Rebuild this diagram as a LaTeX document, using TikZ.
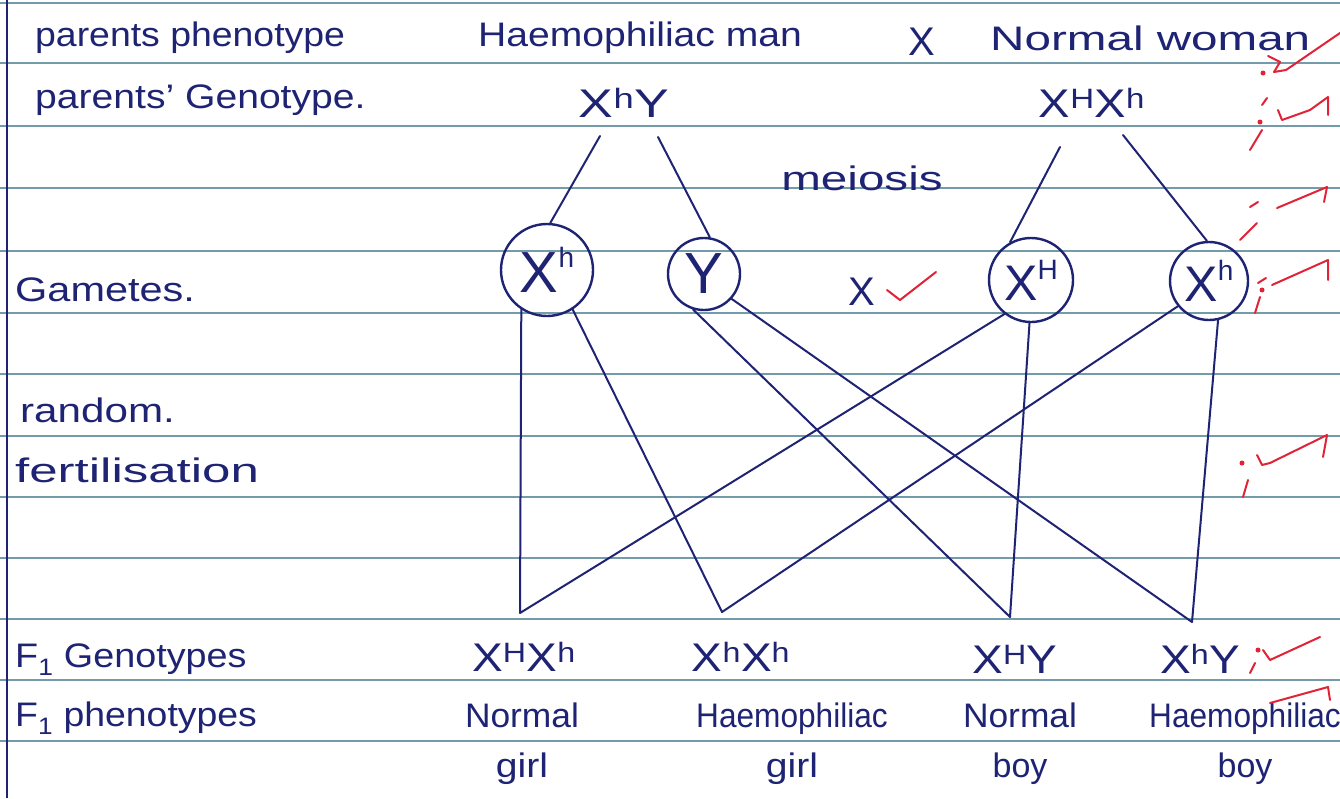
\documentclass[tikz,border=0pt]{standalone}
\usepackage{fontspec}
\setmainfont{Liberation Sans}
\usepackage{graphicx}
\definecolor{ink}{RGB}{30,35,115}
\definecolor{rulecol}{RGB}{115,155,170}
\definecolor{redink}{RGB}{225,35,55}
\newcommand\hs[2]{\scalebox{#1}[1]{#2}}
\newcommand\gsup[1]{\raisebox{0.42em}{\fontsize{28}{28}\selectfont #1}}
\begin{document}
\begin{tikzpicture}[x=1pt,y=-1pt,
  txt/.style={text=ink, font=\fontsize{34}{50}\selectfont, inner sep=0pt},
  geno/.style={text=ink, font=\fontsize{40}{44}\selectfont, inner sep=0pt},
  gamete/.style={draw=ink, line width=2.4pt, circle, inner sep=0pt, text=ink, font=\fontsize{58}{60}\selectfont},
  link/.style={draw=ink, line width=2pt, line cap=round},
  redmark/.style={draw=redink, line width=2pt, line cap=round, line join=round}]
\fill[white] (0,0) rectangle (1340,798);
\useasboundingbox (0,0) rectangle (1340,798);
% ruled paper
\foreach \yy in {3,63,126,188,251,313,374,436,497,558,619,680,741}
  \draw[rulecol, line width=1.6pt] (0,\yy) -- (1340,\yy);
\draw[ink, line width=2pt] (7,0) -- (7,798);

% left column labels
\node[txt, anchor=west] (pp) at (35,38) {\hs{1.10}{parents phenotype}};
\node[txt, anchor=west] (pg) at (35,100) {\hs{1.15}{parents' Genotype.}};
\node[txt, anchor=west] (gl) at (15,290) {\hs{1.22}{Gametes.}};
\node[txt, anchor=west] (rf1) at (20,410) {\hs{1.24}{random.}};
\node[txt, anchor=west] (rf2) at (15,470) {\hs{1.5}{fertilisation}};
\node[txt, anchor=west] (f1g) at (15,660) {\hs{1.11}{F\textsubscript{1} Genotypes}};
\node[txt, anchor=west] (f1p) at (15,718) {\hs{1.10}{F\textsubscript{1} phenotypes}};

% parents
\node[txt, anchor=west] (hm) at (478,38) {\hs{1.15}{Haemophiliac man}};
\node[geno] (cross) at (922,42) {X};
\node[txt, anchor=west] (nw) at (990,38) {\hs{1.4}{Normal woman}};
\node[geno] (pm) at (624,103) {\hs{1.3}{X\textsuperscript{h}Y}};
\node[geno] (pf) at (1092,103) {\hs{1.18}{X\textsuperscript{H}X\textsuperscript{h}}};
\node[txt] (mei) at (862,178) {\hs{1.4}{meiosis}};

% gametes
\node[gamete, minimum size=92pt] (g1) at (547,270) {X\gsup{h}};
\node[gamete, minimum size=72pt] (g2) at (704,274) {Y};
\node[gamete, minimum size=84pt, font=\fontsize{50}{52}\selectfont] (g3) at (1031,280) {X\gsup{H}};
\node[gamete, minimum size=78pt, font=\fontsize{50}{52}\selectfont] (g4) at (1209,281) {X\gsup{h}};
\node[geno] (gx) at (862,292) {X};

% meiosis lines
\coordinate (pmX) at (600,136);
\coordinate (pmY) at (658,137);
\coordinate (pfX) at (1060,147);
\coordinate (pfx) at (1123,135);
\draw[link] (pmX) -- (g1.86);
\draw[link] (pmY) -- (g2.81);
\draw[link] (pfX) -- (g3.119);
\draw[link] (pfx) -- (g4.93);

% fertilisation lines
\coordinate (v1) at (520,613);
\coordinate (v2) at (722,612);
\coordinate (v3) at (1010,617);
\coordinate (v4) at (1192,622);
\draw[link, line join=round] (g1.237) -- (v1) -- (g3.232);
\draw[link, line join=round] (g1.303) -- (v2) -- (g4.219);
\draw[link, line join=round] (g2.253) -- (v3) -- (g3.268);
\draw[link, line join=round] (g2.318) -- (v4) -- (g4.283);

% F1 genotypes
\node[geno] (o1) at (524,657) {\hs{1.15}{X\textsuperscript{H}X\textsuperscript{h}}};
\node[geno] (o2) at (741,657) {\hs{1.15}{X\textsuperscript{h}X\textsuperscript{h}}};
\node[geno] (o3) at (1015,659) {\hs{1.15}{X\textsuperscript{H}Y}};
\node[geno] (o4) at (1200,659) {\hs{1.15}{X\textsuperscript{h}Y}};

% F1 phenotypes
\node[txt, align=center] (p1) at (522,744) {\hs{1.04}{Normal}\\\hs{1.15}{girl}};
\node[txt, align=center] (p2) at (792,744) {\hs{0.93}{Haemophiliac}\\\hs{1.15}{girl}};
\node[txt, align=center] (p3) at (1020,744) {\hs{1.04}{Normal}\\boy};
\node[txt, align=center] (p4) at (1245,744) {\hs{0.93}{Haemophiliac}\\boy};

% red marker ticks
\draw[redmark] (887,290) -- (900,300) -- (936,272);
\fill[redink] (1263,73) circle (2.5);
\draw[redmark] (1268,56) -- (1280,62) -- (1274,72) -- (1286,70) -- (1340,33);
\fill[redink] (1260,122) circle (2.5);
\draw[redmark] (1262,130) -- (1250,150);
\draw[redmark] (1267,98) -- (1262,105);
\draw[redmark] (1278,110) -- (1282,120) -- (1310,110) -- (1328,97) -- (1328,115);
\draw[redmark] (1250,207) -- (1258,202);
\draw[redmark] (1257,223) -- (1240,240);
\draw[redmark] (1277,208) -- (1327,187) -- (1324,202);
\fill[redink] (1262,290) circle (2.5);
\draw[redmark] (1258,283) -- (1266,278);
\draw[redmark] (1260,297) -- (1255,313);
\draw[redmark] (1272,285) -- (1328,260) -- (1328,280);
\fill[redink] (1242,463) circle (2.5);
\draw[redmark] (1248,480) -- (1243,497);
\draw[redmark] (1257,455) -- (1262,465) -- (1270,463) -- (1327,435) -- (1323,457);
\fill[redink] (1258,650) circle (2.5);
\draw[redmark] (1255,663) -- (1250,673);
\draw[redmark] (1263,650) -- (1270,660) -- (1320,637);
\draw[redmark] (1270,703) -- (1328,687) -- (1330,700);
\end{tikzpicture}
\end{document}
